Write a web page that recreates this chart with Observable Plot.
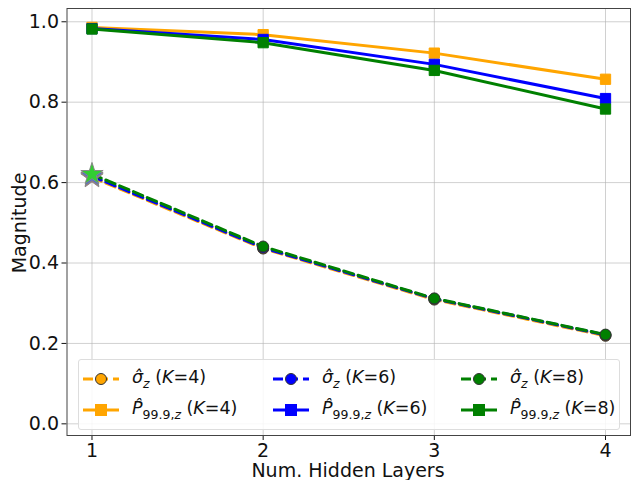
<!DOCTYPE html>
<html>
<head>
<meta charset="utf-8">
<script src="https://cdn.jsdelivr.net/npm/d3@7"></script>
<script src="https://cdn.jsdelivr.net/npm/@observablehq/plot@0.6"></script>
<style>
  body { margin: 0; background: #fff; font-family: "DejaVu Sans", sans-serif; }
  #wrap { position: relative; width: 631px; height: 480px; }
  #legend { position: absolute; left: 78px; top: 359px; width: 542px; height: 71px;
    background: rgba(255,255,255,0.85); border: 1px solid #ddd; border-radius: 3px; box-sizing: border-box; }
  .entry { position: absolute; display: flex; align-items: center; font-size: 17.5px; color: #111; white-space: nowrap; }
  .entry svg { margin-right: 13px; }
  .entry i { font-style: italic; }
  sub { font-size: 12.5px; }
  .axtitle { position: absolute; font-size: 19px; line-height: 1; color: #111; white-space: nowrap; }
  #xt { left: 348px; top: 461px; transform: translateX(-50%); }
  #yt { left: 19px; top: 223px; transform: translate(-50%, -50%) rotate(-90deg); }
</style>
</head>
<body>
<div id="wrap"><div id="chart"></div><div id="legend"></div>
<div class="axtitle" id="xt">Num. Hidden Layers</div>
<div class="axtitle" id="yt">Magnitude</div></div>
<script>
const layers = [1, 2, 3, 4];
const kValues = [4, 6, 8];
const colors = ["orange", "blue", "green"];
const starFills = ["indianred", "royalblue", "limegreen"];
const sigmaK4 = [0.613, 0.436, 0.309, 0.219];
const sigmaK6 = [0.616, 0.438, 0.311, 0.221];
const sigmaK8 = [0.621, 0.441, 0.312, 0.222];
const pK4 = [0.986, 0.968, 0.922, 0.857];
const pK6 = [0.983, 0.956, 0.894, 0.809];
const pK8 = [0.982, 0.948, 0.879, 0.783];
const yTicks = [0, 0.2, 0.4, 0.6, 0.8, 1.0];

const sigmas = [sigmaK4, sigmaK6, sigmaK8];
const ps = [pK4, pK6, pK8];

const marks = [];
ps.forEach((vals, i) => {
  const data = layers.map((x, j) => ({x, y: vals[j]}));
  marks.push(Plot.line(data, {x: "x", y: "y", stroke: colors[i], strokeWidth: 3}));
  marks.push(Plot.dot(data, {x: "x", y: "y", symbol: "square", r: 5.8, fill: colors[i], stroke: colors[i], strokeWidth: 1}));
});
sigmas.forEach((vals, i) => {
  const data = layers.map((x, j) => ({x, y: vals[j]}));
  marks.push(Plot.line(data, {x: "x", y: "y", stroke: colors[i], strokeWidth: 3, strokeDasharray: "10,5"}));
  marks.push(Plot.dot(data.slice(1), {x: "x", y: "y", r: 5.5, fill: colors[i], stroke: "#333", strokeWidth: 1}));
});
sigmas.forEach((vals, i) => {
  marks.push(Plot.dot([{x: layers[0], y: vals[0]}], {x: "x", y: "y", symbol: "star", r: 7, fill: starFills[i], stroke: "#888", strokeWidth: 1}));
});

const chart = Plot.plot({
  width: 631,
  height: 480,
  marginLeft: 66.5,
  marginRight: 1,
  marginTop: 8,
  marginBottom: 45,
  style: {fontFamily: "DejaVu Sans, sans-serif", fontSize: "19px", color: "#111", background: "#fff"},
  x: {domain: [0.854, 4.146], ticks: layers, tickFormat: d => String(d), tickSize: 5, tickPadding: 3, label: null},
  y: {domain: [-0.029, 1.033], ticks: yTicks, tickFormat: d => d.toFixed(1), tickSize: 5, tickPadding: 3, label: null},
  marks: [
    Plot.gridX(layers, {stroke: "#b0b0b0", strokeOpacity: 0.6}),
    Plot.gridY(yTicks, {stroke: "#b0b0b0", strokeOpacity: 0.6}),
    ...marks,
    Plot.frame({stroke: "#444", strokeWidth: 1})
  ]
});
document.getElementById("chart").appendChild(chart);

const legend = document.getElementById("legend");
const colX = [4, 194, 382];
const rowY = [18, 49];
function handle(color, dashed) {
  const s = dashed
    ? `<line x1="0" y1="8" x2="36" y2="8" stroke="${color}" stroke-width="3" stroke-dasharray="10,5"/><circle cx="18" cy="8" r="5.5" fill="${color}" stroke="#333" stroke-width="1"/>`
    : `<line x1="0" y1="8" x2="36" y2="8" stroke="${color}" stroke-width="3"/><rect x="12" y="2" width="12" height="12" fill="${color}"/>`;
  return `<svg width="36" height="16">${s}</svg>`;
}
kValues.forEach((k, i) => {
  const e1 = document.createElement("div");
  e1.className = "entry";
  e1.style.left = colX[i] + "px"; e1.style.top = (rowY[0] - 11) + "px";
  e1.innerHTML = handle(colors[i], true) + `<span><i>σ̂</i><sub><i>z</i></sub> (<i>K</i>=${k})</span>`;
  legend.appendChild(e1);
  const e2 = document.createElement("div");
  e2.className = "entry";
  e2.style.left = colX[i] + "px"; e2.style.top = (rowY[1] - 11) + "px";
  e2.innerHTML = handle(colors[i], false) + `<span><i>P̂</i><sub>99.9,<i>z</i></sub> (<i>K</i>=${k})</span>`;
  legend.appendChild(e2);
});
</script>
</body>
</html>
